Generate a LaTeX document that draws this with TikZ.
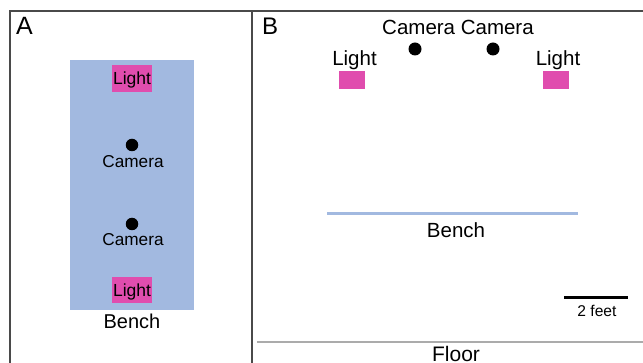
\documentclass[tikz,border=0pt]{standalone}
\usepackage{fontspec}
\setmainfont{Liberation Sans}
\definecolor{benchblue}{HTML}{A2B9E0}
\definecolor{lightpink}{HTML}{E04DAE}
\definecolor{frame}{HTML}{4A4A4A}
\definecolor{floorgray}{HTML}{ABABAB}
\begin{document}
\begin{tikzpicture}[x=1pt,y=-1pt,
  lbl/.style={inner sep=0pt,anchor=base},
  camdot/.style={circle,fill=black,inner sep=0pt,minimum size=12.5pt},
  lamp/.style={fill=lightpink,inner sep=0pt},
  fs/.style={font=\fontsize{#1}{#1}\selectfont}]
\useasboundingbox (0,0) rectangle (643,363);
\clip (0,0) rectangle (643,363);
% frames
\draw[frame,line width=1.2pt] (10,370) -- (10,11) -- (643,11);
\draw[frame,line width=1.2pt] (252,11) -- (252,370);
\coordinate (fl1) at (257,342);
\coordinate (fl2) at (643,342);
\draw[floorgray,line width=1.3pt] (fl1) -- (fl2);
% Panel A
\node[lbl,fs=25,anchor=base west] (labA) at (16,35) {A};
\node[fill=benchblue,draw=white,line width=0.5pt,minimum width=125pt,minimum height=251pt,inner sep=0pt] (benchA) at (131.5,184.5) {};
\node[lamp,minimum width=40pt,minimum height=27pt] (lightA1) at (132,78.5) {};
\node[lbl,fs=17.5] (lightA1t) at (132,85) {Light};
\node[lamp,minimum width=40pt,minimum height=26pt] (lightA2) at (132,290) {};
\node[lbl,fs=17.5] (lightA2t) at (132,296.5) {Light};
\node[camdot] (camA1) at (132,145) {};
\node[lbl,fs=17.2] (camA1t) at (133,168) {Camera};
\node[camdot] (camA2) at (132,224) {};
\node[lbl,fs=17.2] (camA2t) at (133,245.5) {Camera};
\node[lbl,fs=20] (benchAt) at (132,329) {Bench};
% Panel B
\node[lbl,fs=24,anchor=base west] (labB) at (262,35) {B};
\node[lbl,fs=20.5] (camBt) at (458,35) {Camera Camera};
\node[camdot,minimum size=13pt] (camB1) at (415,49) {};
\node[camdot,minimum size=13pt] (camB2) at (493,49) {};
\node[lbl,fs=20.5] (lightB1t) at (354.5,66) {Light};
\node[lamp,minimum width=26.5pt,minimum height=18.5pt] (lightB1) at (352,80) {};
\node[lbl,fs=20.5] (lightB2t) at (558,66) {Light};
\node[lamp,minimum width=26.5pt,minimum height=18.5pt] (lightB2) at (556,80) {};
\coordinate (bb1) at (327,214);
\coordinate (bb2) at (578,214);
\draw[benchblue,line width=3pt] (bb1) -- (bb2);
\node[lbl,fs=20.5] (benchBt) at (456,238) {Bench};
\coordinate (sb1) at (564,297.5);
\coordinate (sb2) at (628,297.5);
\draw[black,line width=3.2pt] (sb1) -- (sb2);
\node[lbl,fs=15.6] (scalet) at (597,317) {2 feet};
\node[lbl,fs=21] (floort) at (456,362) {Floor};
\end{tikzpicture}
\end{document}
